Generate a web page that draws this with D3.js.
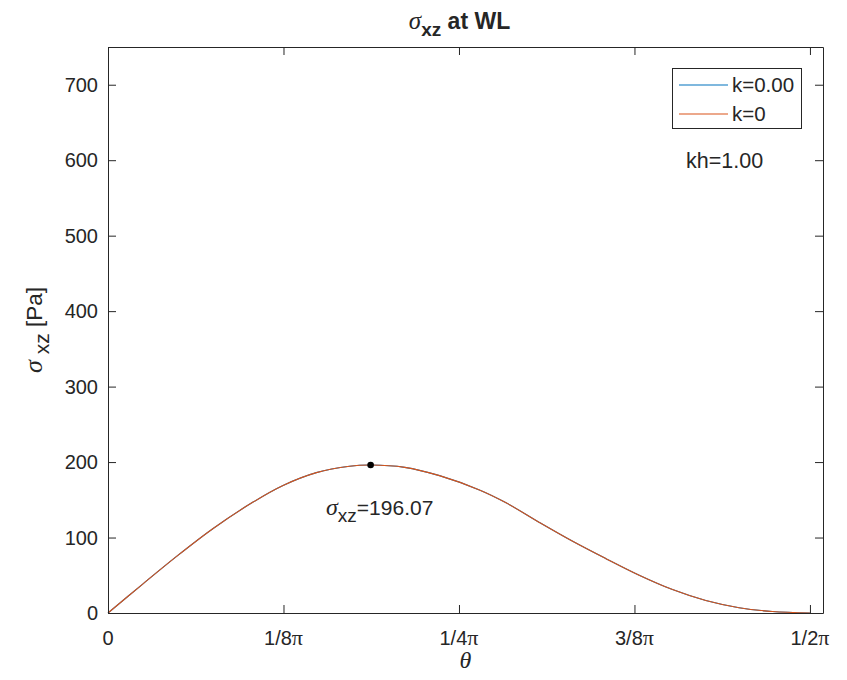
<!DOCTYPE html>
<html>
<head>
<meta charset="utf-8">
<script src="https://cdn.jsdelivr.net/npm/d3@7"></script>
<style>
  body { margin: 0; background: #fff; }
  svg { display: block; }
  text { font-family: "Liberation Sans", Arial, Helvetica, sans-serif; fill: #262626; }
  .serif { font-family: "Liberation Serif", "Times New Roman", serif; }
</style>
</head>
<body>
<svg id="chart" width="847" height="680"></svg>
<script>
// Shear stress along the angle theta (rad) and value [Pa]
const theta = [0, 0.077, 0.1535, 0.2353, 0.3247, 0.3917, 0.4663, 0.5407, 0.5877, 0.664,
               0.7418, 0.8312, 0.8908, 0.9653, 1.0398, 1.1143, 1.1887, 1.2632, 1.3377,
               1.4122, 1.4867, 1.5708];
const sigmaK000 = [0, 38, 75, 112, 147, 169, 186, 194.5, 196.07, 193,
                   182, 163, 146, 120, 95, 72, 50, 31, 16.5,
                   7, 2, 0];
const sigmaK0 = sigmaK000.slice();
const peakTheta = 0.5877;
const peakValue = 196.07;

const xTickValues = [0, Math.PI / 8, Math.PI / 4, 3 * Math.PI / 8, Math.PI / 2];
const xTickLabels = ["0", "1/8", "1/4", "3/8", "1/2"];
const yTickValues = [0, 100, 200, 300, 400, 500, 600, 700];
const seriesNames = ["k=0.00", "k=0"];
const seriesColors = ["#0072BD", "#D95319"];

const svg = d3.select("#chart");
const pL = 108, pR = 823, pT = 47, pB = 613;
const x = d3.scaleLinear().domain([0, 1.6]).range([pL, pR]);
const y = d3.scaleLinear().domain([0, 750]).range([pB, pT]);
const axisColor = "#262626";
const tickLen = 8;
const fs = 20;

// Curves
const line = d3.line()
  .x((d, i) => x(theta[i]))
  .y(d => y(d))
  .curve(d3.curveCatmullRom.alpha(0.5));
[sigmaK000, sigmaK0].forEach((s, k) => {
  svg.append("path").attr("d", line(s))
    .attr("fill", "none").attr("stroke", seriesColors[k]).attr("stroke-width", 1.1);
});

// Axes (ticks pointing inward, box on)
const gB = svg.append("g").attr("transform", `translate(0,${pB})`)
  .call(d3.axisBottom(x).tickValues(xTickValues).tickSizeInner(-tickLen).tickSizeOuter(0).tickFormat(""));
const gT = svg.append("g").attr("transform", `translate(0,${pT})`)
  .call(d3.axisTop(x).tickValues(xTickValues).tickSizeInner(-tickLen).tickSizeOuter(0).tickFormat(""));
const gL = svg.append("g").attr("transform", `translate(${pL},0)`)
  .call(d3.axisLeft(y).tickValues(yTickValues).tickSizeInner(-tickLen).tickSizeOuter(0).tickFormat(""));
const gR = svg.append("g").attr("transform", `translate(${pR},0)`)
  .call(d3.axisRight(y).tickValues(yTickValues).tickSizeInner(-tickLen).tickSizeOuter(0).tickFormat(""));
[gB, gT, gL, gR].forEach(g => {
  g.selectAll("path.domain").attr("stroke", axisColor).attr("stroke-width", 1);
  g.selectAll(".tick line").attr("stroke", axisColor).attr("stroke-width", 1);
});

// Tick labels
xTickValues.forEach((v, i) => {
  const t = svg.append("text").attr("x", x(v)).attr("y", pB + 32)
    .attr("text-anchor", "middle").attr("font-size", fs);
  t.append("tspan").text(xTickLabels[i]);
  if (i > 0) t.append("tspan").attr("class", "serif").attr("font-size", fs + 2).text("π");
});
yTickValues.forEach(v => {
  svg.append("text").attr("x", pL - 10).attr("y", y(v) + 7)
    .attr("text-anchor", "end").attr("font-size", fs).text(v);
});

// Title
const title = svg.append("text").attr("x", (pL + pR) / 2 - 6).attr("y", 29)
  .attr("text-anchor", "middle").attr("font-size", 23).attr("font-weight", "bold");
title.append("tspan").attr("class", "serif").attr("font-style", "italic").attr("font-weight", "normal")
  .attr("font-size", 25).text("σ");
title.append("tspan").attr("dy", 7).attr("font-size", 19).text("xz");
title.append("tspan").attr("dy", -7).text(" at WL");

// Axis labels
svg.append("text").attr("class", "serif").attr("x", (pL + pR) / 2).attr("y", 668)
  .attr("text-anchor", "middle").attr("font-size", 24).attr("font-style", "italic").text("θ");
const yl = svg.append("text").attr("transform", `translate(42,${(pT + pB) / 2}) rotate(-90)`)
  .attr("text-anchor", "middle").attr("font-size", 22.5);
yl.append("tspan").attr("class", "serif").attr("font-style", "italic").attr("font-size", 26).text("σ");
yl.append("tspan").attr("dy", 7).attr("font-size", 21).text(" xz");
yl.append("tspan").attr("dy", -7).text(" [Pa]");

// Peak marker and annotation
svg.append("circle").attr("cx", x(peakTheta)).attr("cy", y(peakValue)).attr("r", 3.3).attr("fill", "#000");
const ann = svg.append("text").attr("x", 326).attr("y", 515).attr("font-size", 21);
ann.append("tspan").attr("class", "serif").attr("font-style", "italic").attr("font-size", 24).text("σ");
ann.append("tspan").attr("dy", 7).attr("font-size", 19).text("xz");
ann.append("tspan").attr("dy", -7).text("=" + peakValue.toFixed(2));

// kh note
svg.append("text").attr("x", 686).attr("y", 168).attr("font-size", 21.5).text("kh=1.00");

// Legend
const lg = svg.append("g");
lg.append("rect").attr("x", 672.5).attr("y", 68.5).attr("width", 129).attr("height", 60)
  .attr("fill", "#fff").attr("stroke", axisColor).attr("stroke-width", 1);
seriesNames.forEach((n, i) => {
  const ly = 85 + i * 29;
  lg.append("line").attr("x1", 679).attr("x2", 728).attr("y1", ly).attr("y2", ly)
    .attr("stroke", seriesColors[i]).attr("stroke-width", 1.1);
  lg.append("text").attr("x", 732).attr("y", ly + 7).attr("font-size", 20.5).text(n);
});
</script>
</body>
</html>
